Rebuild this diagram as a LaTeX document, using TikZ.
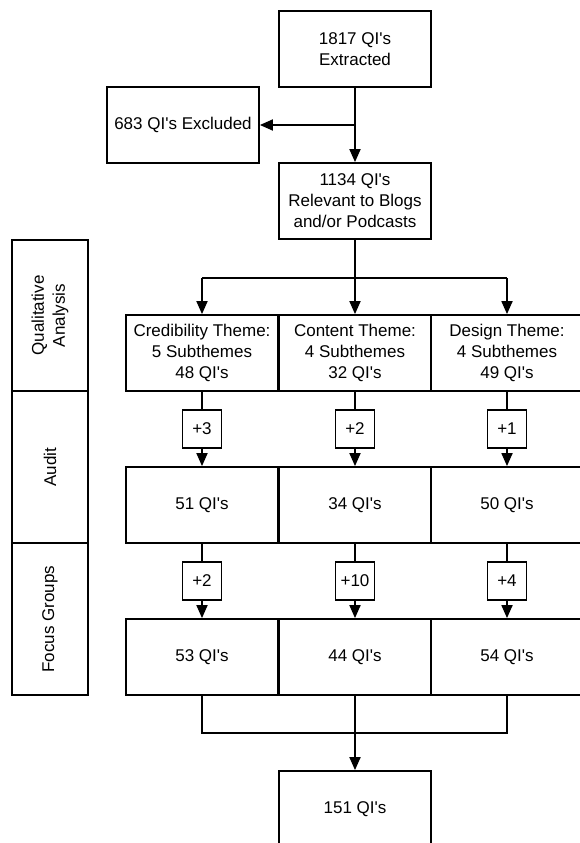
\documentclass[tikz,border=0pt]{standalone}
\usepackage{fontspec}
\setmainfont{Liberation Sans}
\usetikzlibrary{arrows.meta}
\newcommand{\qs}{\textquotesingle}
\begin{document}
\begin{tikzpicture}[x=1pt,y=-1pt,
  box/.style={draw, line width=1.8pt, minimum width=152pt, minimum height=76pt, inner sep=0pt, align=center, font=\fontsize{17}{21}\selectfont},
  sidebox/.style={draw, line width=1.8pt, minimum width=76pt, inner sep=0pt, align=center, font=\fontsize{17}{21}\selectfont},
  plusbox/.style={draw, line width=1.5pt, minimum width=39pt, minimum height=38pt, inner sep=2pt, font=\fontsize{17}{21}\selectfont},
  ln/.style={line width=1.8pt},
  arr/.style={line width=1.8pt, -{Triangle[length=13pt,width=11pt]}}
]
\useasboundingbox (0,0) rectangle (580,843);

% top flow
\node[box] (top) at (355,49) {1817 QI\qs s\\Extracted};
\node[box] (excl) at (183,125) {683 QI\qs s Excluded};
\node[box] (rel) at (355,201) {1134 QI\qs s\\Relevant to Blogs\\and/or Podcasts};
\coordinate (j1) at (355,125);
\draw[arr] (top.south) -- (rel.north);
\draw[arr] (j1) -- (excl.east);

% side labels
\node[sidebox, minimum height=151pt] (sqa) at (50,315.5) {};
\node[rotate=90, align=center, font=\fontsize{17}{21}\selectfont] (tqa) at (sqa.center) {Qualitative\\Analysis};
\node[sidebox, minimum height=152pt] (sau) at (50,467) {};
\node[rotate=90, font=\fontsize{17}{21}\selectfont] (tau) at (sau.center) {Audit};
\node[sidebox, minimum height=152pt] (sfo) at (50,619) {};
\node[rotate=90, font=\fontsize{17}{21}\selectfont] (tfo) at (sfo.center) {Focus Groups};

% theme row
\node[box] (th1) at (202,353) {Credibility Theme:\\5 Subthemes\\48 QI\qs s};
\node[box] (th2) at (355,353) {Content Theme:\\4 Subthemes\\32 QI\qs s};
\node[box] (th3) at (507,353) {Design Theme:\\4 Subthemes\\49 QI\qs s};

\coordinate (sc) at (355,278);
\coordinate (s1) at (202,278);
\coordinate (s3) at (507,278);
\draw[ln] (rel.south) -- (sc);
\draw[ln] (s1) -- (s3);
\draw[arr] (s1) -- (th1.north);
\draw[arr] (sc) -- (th2.north);
\draw[arr] (s3) -- (th3.north);

% audit
\node[plusbox] (pa1) at (202,429) {+3};
\node[plusbox] (pa2) at (355,429) {+2};
\node[plusbox] (pa3) at (507,429) {+1};
\node[box] (au1) at (202,505) {51 QI\qs s};
\node[box] (au2) at (355,505) {34 QI\qs s};
\node[box] (au3) at (507,505) {50 QI\qs s};
\foreach \i in {1,2,3} {
  \draw[ln] (th\i.south) -- (pa\i.north);
  \draw[arr] (pa\i.south) -- (au\i.north);
}

% focus groups
\node[plusbox] (pf1) at (202,581) {+2};
\node[plusbox] (pf2) at (355,581) {+10};
\node[plusbox] (pf3) at (507,581) {+4};
\node[box] (fo1) at (202,657) {53 QI\qs s};
\node[box] (fo2) at (355,657) {44 QI\qs s};
\node[box] (fo3) at (507,657) {54 QI\qs s};
\foreach \i in {1,2,3} {
  \draw[ln] (au\i.south) -- (pf\i.north);
  \draw[arr] (pf\i.south) -- (fo\i.north);
}

% merge
\node[box] (fin) at (355,809) {151 QI\qs s};
\coordinate (m1) at (202,733);
\coordinate (mc) at (355,733);
\coordinate (m3) at (507,733);
\draw[ln] (fo1.south) -- (m1) -- (m3) -- (fo3.south);
\draw[ln] (fo2.south) -- (mc);
\draw[arr] (mc) -- (fin.north);
\end{tikzpicture}
\end{document}
